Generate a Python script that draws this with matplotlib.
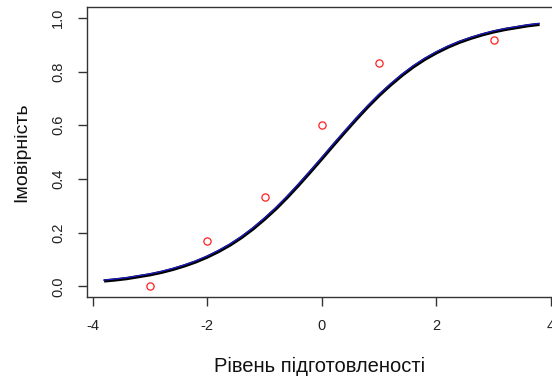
import numpy as np
import matplotlib
matplotlib.use('Agg')
from matplotlib import pyplot as plt
import matplotlib.transforms as mtransforms

# observed proportions
obs_x = [-3, -2, -1, 0, 1, 3]
obs_p = [0.0, 0.167, 0.333, 0.6, 0.833, 0.917]

# fitted curve
curve_x = [-3.8, -3.6, -3.4, -3.2, -3.0, -2.8, -2.6, -2.4, -2.2, -2.0,
           -1.8, -1.6, -1.4, -1.2, -1.0, -0.8, -0.6, -0.4, -0.2, 0.0,
           0.2, 0.4, 0.6, 0.8, 1.0, 1.2, 1.4, 1.6, 1.8, 2.0,
           2.2, 2.4, 2.6, 2.8, 3.0, 3.2, 3.4, 3.6, 3.8]
curve_p = [0.020, 0.024, 0.029, 0.036, 0.043, 0.052, 0.063, 0.076, 0.091, 0.109,
           0.130, 0.154, 0.182, 0.214, 0.250, 0.289, 0.332, 0.378, 0.426, 0.475,
           0.525, 0.574, 0.622, 0.668, 0.711, 0.750, 0.786, 0.818, 0.846, 0.870,
           0.891, 0.909, 0.924, 0.937, 0.948, 0.957, 0.964, 0.971, 0.976]

xticks = [-4, -2, 0, 2, 4]
yticks = [0.0, 0.2, 0.4, 0.6, 0.8, 1.0]

plt.rcParams['font.family'] = ['Liberation Sans', 'DejaVu Sans']

fig = plt.figure(figsize=(5.52, 3.76), dpi=100)
ax = fig.add_axes([0.157, 0.210, 0.852, 0.771])

ax.plot(curve_x, curve_p, color='black', lw=2.4, solid_capstyle='butt')
shift = mtransforms.offset_copy(ax.transData, fig=fig, x=-0.3, y=0.6, units='points')
ax.plot(curve_x, curve_p, color='#1c1cc8', lw=0.9, transform=shift)
ax.plot(obs_x, obs_p, 'o', mfc='none', mec='#ff2020', ms=5.2, mew=0.9)

ax.set_xlim(-4.104, 4.104)
ax.set_ylim(-0.04, 1.04)
ax.set_xticks(xticks)
ax.set_xticklabels(['-4', '-2', '0', '2', '4'])
ax.set_yticks(yticks)
ax.set_yticklabels(['0.0', '0.2', '0.4', '0.6', '0.8', '1.0'], rotation=90, va='center')

for s in ax.spines.values():
    s.set_color('#333333')
    s.set_linewidth(1.0)
ax.tick_params(direction='out', length=6.5, width=1.0, color='#333333',
               labelsize=10.5, labelcolor='#222222')
ax.tick_params(axis='x', pad=9)
ax.tick_params(axis='y', pad=9)

ax.set_xlabel('Рівень підготовленості', fontsize=14.5, color='#111111')
ax.set_ylabel('Імовірність', fontsize=14, color='#111111')
ax.xaxis.label.set_va('center')
ax.yaxis.label.set_va('center')
ax.xaxis.set_label_coords(0.5 - 0.005, -0.241)
ax.yaxis.set_label_coords(-0.138, 0.5)

fig.savefig('out.png', dpi=100)
